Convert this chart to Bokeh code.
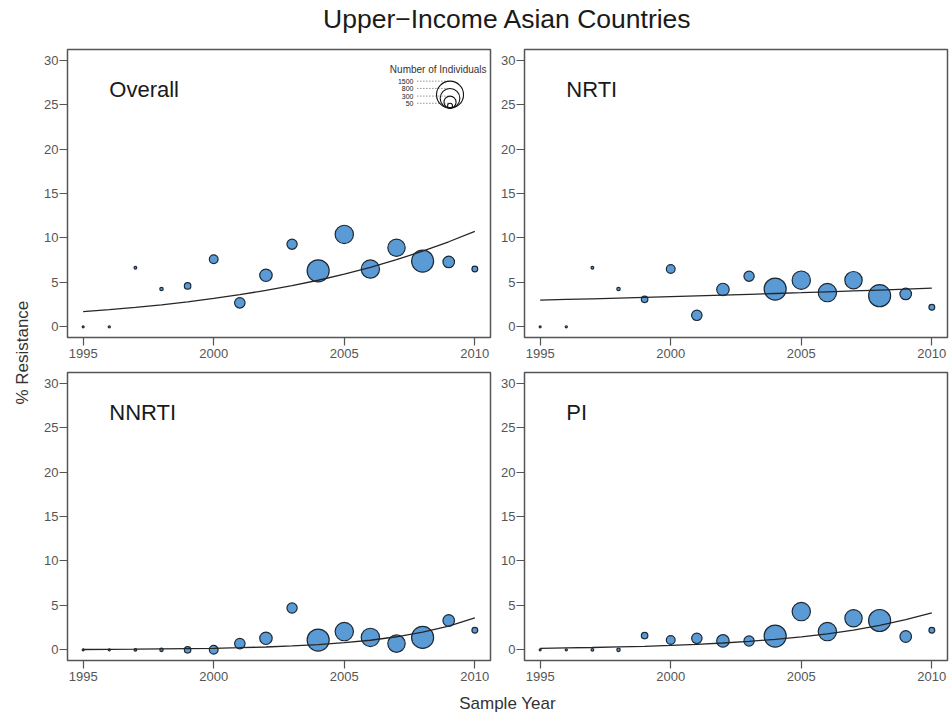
import math
from bokeh.plotting import figure
from bokeh.layouts import row, column
from bokeh.models import Range1d, Label, FixedTicker, ColumnDataSource
from bokeh.embed import file_html
from bokeh.resources import INLINE
from bokeh.core.properties import value

# ---------------- data ----------------
years = [1995, 1996, 1997, 1998, 1999, 2000, 2001, 2002,
         2003, 2004, 2005, 2006, 2007, 2008, 2009, 2010]
n_individuals = [8, 10, 15, 24, 87, 158, 225, 320,
                 215, 1000, 690, 690, 620, 1000, 275, 69]

overall = [0, 0, 6.65, 4.25, 4.6, 7.6, 2.7, 5.8, 9.3, 6.3, 10.4, 6.5, 8.9, 7.4, 7.3, 6.5]
nrti = [0, 0, 6.65, 4.25, 3.1, 6.5, 1.3, 4.2, 5.7, 4.25, 5.25, 3.85, 5.25, 3.5, 3.7, 2.2]
nnrti = [0, 0, 0, 0, 0, 0, 0.7, 1.3, 4.7, 1.1, 2.05, 1.4, 0.7, 1.4, 3.3, 2.2]
pi = [0, 0, 0, 0, 1.6, 1.1, 1.3, 1.0, 1.0, 1.55, 4.3, 2.05, 3.55, 3.3, 1.5, 2.2]

overall_fit = [1.70, 1.93, 2.19, 2.48, 2.81, 3.19, 3.62, 4.10, 4.64, 5.24, 5.93, 6.70, 7.55, 8.51, 9.57, 10.75]
nrti_fit = [3.00, 3.08, 3.15, 3.23, 3.31, 3.40, 3.48, 3.57, 3.66, 3.75, 3.84, 3.94, 4.04, 4.14, 4.24, 4.35]
nnrti_fit = [0.04, 0.05, 0.07, 0.10, 0.13, 0.17, 0.24, 0.32, 0.44, 0.59, 0.80, 1.08, 1.47, 1.98, 2.67, 3.59]
pi_fit = [0.17, 0.21, 0.26, 0.33, 0.40, 0.50, 0.62, 0.77, 0.95, 1.18, 1.46, 1.80, 2.22, 2.75, 3.39, 4.17]

panel_names = ["Overall", "NRTI", "NNRTI", "PI"]
x_ticks = [1995, 2000, 2005, 2010]
y_ticks = [0, 5, 10, 15, 20, 25, 30]
legend_counts = [1500, 800, 300, 50]

title_text = "Upper\u2212Income Asian Countries"
y_label_text = "% Resistance"
x_label_text = "Sample Year"
legend_title = "Number of Individuals"

# ---------------- style ----------------
FONT = "Liberation Sans"
FILL = "#5b9bd5"
EDGE = "#1d2a36"
GREY = "#555555"
MAX_D = 27.0          # diameter (px) of the 1500-individual bubble
X0, X1 = 1994.4, 2010.6
Y0, Y1 = -1.2, 31.2
FH = 288
FW = 423

def diam(n):
    return MAX_D * math.sqrt(n / 1500.0)

sizes = [diam(n) for n in n_individuals]


def panel(name, vals, fit, bl, br, bt, bb, legend=False):
    p = figure(frame_width=FW, frame_height=FH,
               x_range=Range1d(X0, X1), y_range=Range1d(Y0, Y1),
               output_backend="svg", toolbar_location=None,
               min_border_left=bl, min_border_right=br,
               min_border_top=bt, min_border_bottom=bb,
               background_fill_color="white", border_fill_color="white")
    p.xgrid.visible = False
    p.ygrid.visible = False
    p.xaxis.ticker = FixedTicker(ticks=x_ticks)
    p.yaxis.ticker = FixedTicker(ticks=y_ticks)
    for ax in (p.xaxis[0], p.yaxis[0]):
        ax.axis_line_color = None
        ax.major_tick_out = 8
        ax.major_tick_in = 0
        ax.minor_tick_line_color = None
        ax.major_tick_line_color = GREY
        ax.major_tick_line_width = 1.2
        ax.major_label_text_font = FONT
        ax.major_label_text_font_size = "13px"
        ax.major_label_text_color = GREY
    p.xaxis.major_label_standoff = 3
    p.yaxis.major_label_standoff = 1
    p.outline_line_color = GREY
    p.outline_line_width = 1.5

    src = ColumnDataSource(dict(year=years, val=vals, d=sizes, fit=fit))
    p.scatter(x="year", y="val", size="d", source=src, marker="circle",
              fill_color=FILL, line_color=EDGE, line_width=1.2)
    p.line(x="year", y="fit", source=src, line_color="#262626", line_width=1.3)

    p.add_layout(Label(x=1996.0, y=26.7, text=name, text_font=FONT,
                       text_font_size="22px", text_color="#1a1a1a",
                       text_baseline="middle", text_align="left"))

    if legend:
        ppu = FH / (Y1 - Y0)
        cx = 2009.05
        base = 24.6
        ds = [diam(c) for c in legend_counts]
        cys = [base + d / 2.0 / ppu for d in ds]
        tops = [base + d / ppu for d in ds]
        lsrc = ColumnDataSource(dict(x=[cx] * len(ds), y=cys, d=ds,
                                     top=tops, lab=[str(c) for c in legend_counts],
                                     lx=[2007.65] * len(ds),
                                     x0=[2007.8] * len(ds)))
        p.scatter(x="x", y="y", size="d", source=lsrc, marker="circle",
                  fill_color=None, line_color="#111111", line_width=1.1)
        p.segment(x0="x0", y0="top", x1="x", y1="top", source=lsrc,
                  line_color="#333333", line_width=0.8, line_dash="1 2")
        p.text(x="lx", y="top", text="lab", source=lsrc,
               text_font=value(FONT), text_font_size="7px",
               text_color="#222222", text_align="right", text_baseline="middle")
        p.add_layout(Label(x=2010.45, y=28.9, text=legend_title,
                           text_font=FONT, text_font_size="10px",
                           text_color="#333333", text_align="right",
                           text_baseline="middle"))
    return p


def text_fig(w, h, txt, tx, ty, size, angle=0.0, color="#222222"):
    f = figure(width=w, height=h, x_range=Range1d(0, 1), y_range=Range1d(0, 1),
               output_backend="svg", toolbar_location=None,
               x_axis_type=None, y_axis_type=None,
               min_border=0, min_border_left=0, min_border_right=0,
               min_border_top=0, min_border_bottom=0,
               background_fill_color="white", border_fill_color="white")
    f.outline_line_color = None
    f.xgrid.visible = False
    f.ygrid.visible = False
    f.add_layout(Label(x=tx, y=ty, text=txt, text_font=FONT,
                       text_font_size=size, text_color=color, angle=angle,
                       text_align="center", text_baseline="middle"))
    return f


tl = panel(panel_names[0], overall, overall_fit, 35, 2, 5, 28, legend=True)
tr = panel(panel_names[1], nrti, nrti_fit, 32, 2, 5, 28)
bl = panel(panel_names[2], nnrti, nnrti_fit, 35, 2, 7, 30)
br = panel(panel_names[3], pi, pi_fit, 32, 2, 7, 30)

TOTAL_W = 949
title_f = text_fig(TOTAL_W, 44, title_text, 0.5343, 0.57, "26.5px", color="#1a1a1a")
ylab_f = text_fig(32, 646, y_label_text, 0.69, 0.523, "17px", angle=math.pi / 2, color="#333333")
xlab_f = text_fig(TOTAL_W, 24, x_label_text, 0.5343, 0.46, "17px", color="#333333")

grid = column(row(tl, tr, spacing=0), row(bl, br, spacing=0), spacing=0)
layout = column(title_f, row(ylab_f, grid, spacing=0), xlab_f, spacing=0)

open("out.html", "w").write(file_html(layout, INLINE))
